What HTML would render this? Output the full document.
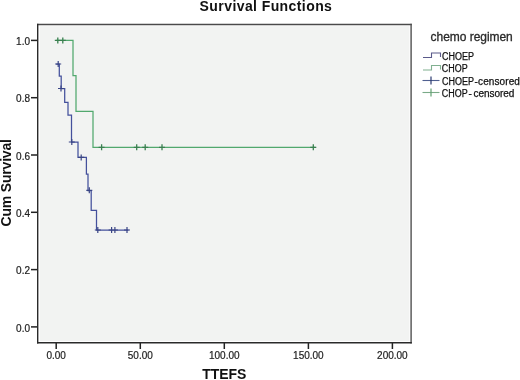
<!DOCTYPE html>
<html><head><meta charset="utf-8">
<style>
html,body{margin:0;padding:0;background:#fff;width:520px;height:380px;overflow:hidden}
svg{display:block;will-change:transform}
text{font-family:"Liberation Sans",sans-serif}
</style></head>
<body>
<svg width="520" height="380" viewBox="0 0 520 380">
<rect x="0" y="0" width="520" height="380" fill="#ffffff"/>
<!-- plot background -->
<rect x="39.8" y="26.2" width="369.6" height="314.8" fill="#f2f3f2"/>
<!-- title -->
<text x="199.6" y="10.8" font-size="14" font-weight="bold" fill="#111" textLength="132.3">Survival Functions</text>
<!-- y label -->
<text transform="translate(10.9,182.8) rotate(-90)" text-anchor="middle" font-size="14" font-weight="bold" fill="#111" textLength="87.5">Cum Survival</text>
<!-- x label -->
<text x="224.3" y="378.8" text-anchor="middle" font-size="14" font-weight="bold" fill="#111">TTEFS</text>
<!-- y ticks -->
<g stroke="#222" stroke-width="1.5">
<line x1="31" y1="40.4" x2="38" y2="40.4"/>
<line x1="31" y1="97.7" x2="38" y2="97.7"/>
<line x1="31" y1="155" x2="38" y2="155"/>
<line x1="31" y1="212.3" x2="38" y2="212.3"/>
<line x1="31" y1="269.6" x2="38" y2="269.6"/>
<line x1="31" y1="326.9" x2="38" y2="326.9"/>
<line x1="56.2" y1="342.5" x2="56.2" y2="349"/>
<line x1="140.3" y1="342.5" x2="140.3" y2="349"/>
<line x1="224.3" y1="342.5" x2="224.3" y2="349"/>
<line x1="308.4" y1="342.5" x2="308.4" y2="349"/>
<line x1="392.4" y1="342.5" x2="392.4" y2="349"/>
</g>
<g font-size="10" fill="#222" stroke="#222" stroke-width="0.2" text-anchor="end">
<text x="30" y="44.7">1.0</text>
<text x="30" y="102.1">0.8</text>
<text x="30" y="159.5">0.6</text>
<text x="30" y="216.9">0.4</text>
<text x="30" y="274.3">0.2</text>
<text x="30" y="331.7">0.0</text>
</g>
<g font-size="10" fill="#222" stroke="#222" stroke-width="0.2" text-anchor="middle">
<text x="56.2" y="359">0.00</text>
<text x="140.3" y="359">50.00</text>
<text x="224.3" y="359">100.00</text>
<text x="308.4" y="359">150.00</text>
<text x="392.4" y="359">200.00</text>
</g>
<!-- frame -->
<g fill="none" stroke-width="1.4">
<path d="M37.2,24.5 H411.8" stroke="#4a4a4a"/>
<path d="M411.1,23.8 V343.4" stroke="#505050"/>
<path d="M37.7,23.8 V343.4" stroke="#2a2a2a"/>
<path d="M37,342.7 H411.8" stroke="#2a2a2a"/>
</g>
<!-- curves -->
<path d="M56.2,40.4 H73 V75.7 H76 V111.4 H93 V147.3 H315.5" fill="none" stroke="#52a86e" stroke-width="1.25"/>
<path d="M56.2,64 H59.3 V76 H61.2 V88.5 H64.7 V102.4 H68 V115 H71.5 V142 H78 V157.4 H86.4 V174 H88 V190.5 H91.2 V210.4 H96.5 V230 H128.5" fill="none" stroke="#44509c" stroke-width="1.25"/>
<!-- censor marks -->
<g stroke="#3a8050" stroke-width="1.3" fill="none">
<path d="M54.8,40.4h6M57.8,37.4v6 M59.8,40.4h6M62.8,37.4v6 M98.6,147.3h6M101.6,144.3v6 M133.7,147.3h6M136.7,144.3v6 M142.2,147.3h6M145.2,144.3v6 M159,147.3h6M162,144.3v6 M310.3,147.3h6M313.3,144.3v6"/>
</g>
<g stroke="#3a4585" stroke-width="1.2" fill="none">
<path d="M55.2,64h6M58.2,61v6 M58,88.5h6M61,85.5v6 M68.8,142h6M71.8,139v6 M78.2,157.4h6M81.2,154.4v6 M86.3,190.3h6M89.3,187.3v6 M94.8,230h6M97.8,227v6 M108.6,230h6M111.6,227v6 M111.9,230h6M114.9,227v6 M124,230h6M127,227v6"/>
</g>
<!-- legend -->
<text x="430.6" y="41" font-size="12" fill="#2a2a2a" stroke="#2a2a2a" stroke-width="0.3" textLength="82.2">chemo regimen</text>
<path d="M423,57.5 H431.5 V53 H440.5 V57" fill="none" stroke="#5a5a8a" stroke-width="1.1"/>
<path d="M423,70 H431.5 V65.5 H440.5 V69.5" fill="none" stroke="#80b090" stroke-width="1.1"/>
<path d="M422.5,80.5 H439.5" fill="none" stroke="#506090" stroke-width="1.1"/>
<path d="M431,76.5 V84.5" fill="none" stroke="#2a3a70" stroke-width="1.2"/>
<path d="M422.5,92.5 H439.5" fill="none" stroke="#7aaa88" stroke-width="1.1"/>
<path d="M431,88.5 V96.5" fill="none" stroke="#60a070" stroke-width="1.2"/>
<g font-size="10" fill="#111" stroke="#111" stroke-width="0.25">
<text x="442" y="59.6" textLength="32" lengthAdjust="spacingAndGlyphs">CHOEP</text>
<text x="441.8" y="72.1" textLength="25.8" lengthAdjust="spacingAndGlyphs">CHOP</text>
<text x="442" y="84.8" textLength="32" lengthAdjust="spacingAndGlyphs">CHOEP</text>
<text x="474.6" y="84.8">-</text><text x="478.1" y="84.8" textLength="41.8">censored</text>
<text x="441.8" y="96.8" textLength="25.8" lengthAdjust="spacingAndGlyphs">CHOP</text>
<text x="468.5" y="96.8">-</text><text x="473.4" y="96.8" textLength="41">censored</text>
</g>
</svg>
</body></html>
